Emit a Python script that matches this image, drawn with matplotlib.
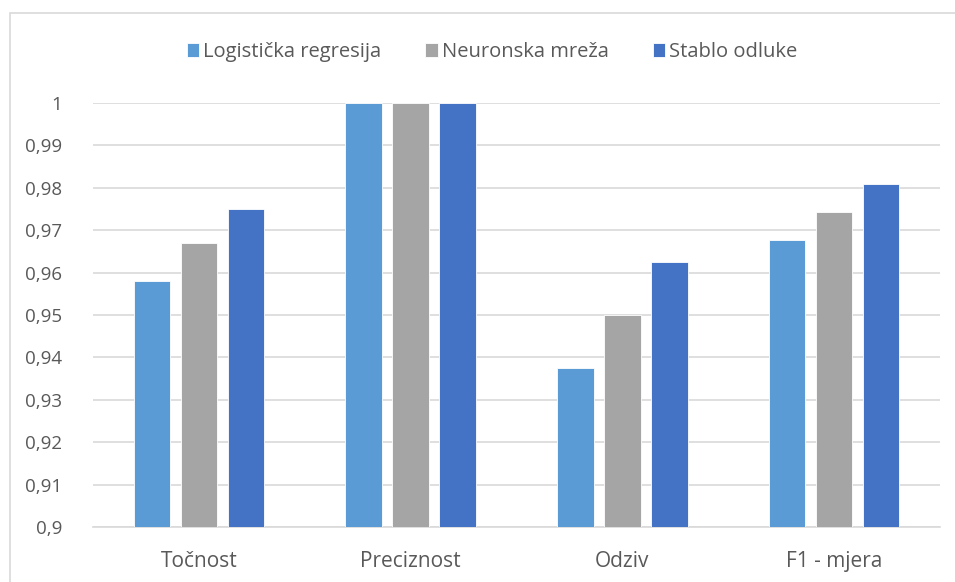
import numpy as np
import matplotlib.pyplot as plt
from matplotlib.patches import Rectangle
plt.switch_backend('Agg')

categories = ['Točnost', 'Preciznost', 'Odziv', 'F1 - mjera']
series_names = ['Logistička regresija', 'Neuronska mreža', 'Stablo odluke']
logisticka = [0.9580, 1.0, 0.9375, 0.9677]
neuronska = [0.9670, 1.0, 0.9500, 0.9744]
stablo = [0.9750, 1.0, 0.9625, 0.9809]
yticks = [0.90, 0.91, 0.92, 0.93, 0.94, 0.95, 0.96, 0.97, 0.98, 0.99, 1.0]
ytick_labels = ['0,9', '0,91', '0,92', '0,93', '0,94', '0,95', '0,96', '0,97', '0,98', '0,99', '1']

colors = ['#5B9BD5', '#A5A5A5', '#4472C4']
text_color = '#595959'
plt.rcParams['font.family'] = ['Open Sans', 'DejaVu Sans']

fig = plt.figure(figsize=(9.55, 5.82), dpi=100)
ax = fig.add_axes([93 / 955, 1 - 527 / 582, 847 / 955, 424 / 582])

# chart border like the Excel chart area
fig.patches.append(Rectangle((10 / 955, -0.05), 1.0, 1 - 13 / 582 + 0.05,
                             transform=fig.transFigure, fill=False,
                             edgecolor='#D9D9D9', linewidth=1.2))

x = np.arange(len(categories))
offset = 0.222
width = 0.172
for i, (vals, name) in enumerate(zip([logisticka, neuronska, stablo], series_names)):
    ax.bar(x + (i - 1) * offset, vals, width, color=colors[i], label=name,
           edgecolor='white', linewidth=0.6, zorder=3)

ax.set_xlim(-0.5, 3.5)
ax.set_ylim(0.9, 1.0)
ax.set_yticks(yticks)
ax.set_yticklabels(ytick_labels)
ax.set_xticks(x)
ax.set_xticklabels(categories)
ax.grid(axis='y', color='#D9D9D9', linewidth=1.2, zorder=0)
for s in ['top', 'right', 'left']:
    ax.spines[s].set_visible(False)
ax.spines['bottom'].set_color('#D9D9D9')
ax.spines['bottom'].set_linewidth(1.2)
ax.tick_params(axis='both', length=0, colors=text_color)
ax.tick_params(axis='y', pad=22, labelsize=13.5)
ax.tick_params(axis='x', pad=17, labelsize=15)

ax.legend(loc='center', bbox_to_anchor=(492 / 955, 1 - 52 / 582),
          bbox_transform=fig.transFigure, ncol=3, frameon=False,
          fontsize=14.5, labelcolor=text_color, handlelength=0.6, handleheight=0.7,
          handletextpad=0.2, columnspacing=2.2)

fig.savefig('out.png', dpi=100)
plt.close()
